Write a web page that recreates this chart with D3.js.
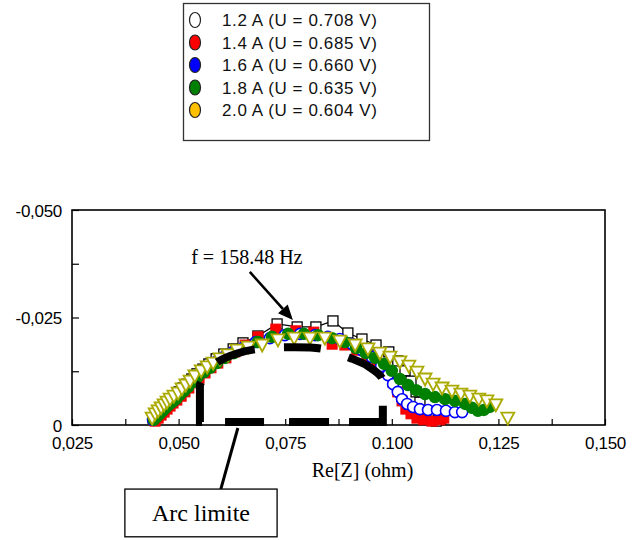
<!DOCTYPE html>
<html>
<head>
<meta charset="utf-8">
<script src="https://cdn.jsdelivr.net/npm/d3@7"></script>
<style>
  body { margin: 0; background: #fff; }
  svg { display: block; }
</style>
</head>
<body>
<svg id="chart" width="642" height="540"></svg>
<script>
// Nyquist plot: Re[Z] vs Im[Z] (ohm) for five cell currents
const legendLabels = [
  "1.2 A (U = 0.708 V)",
  "1.4 A (U = 0.685 V)",
  "1.6 A (U = 0.660 V)",
  "1.8 A (U = 0.635 V)",
  "2.0 A (U = 0.604 V)"
];
const legendColors = ["#ffffff", "#ff0000", "#0000ff", "#008000", "#ffc000"];

// [Re Z, Im Z] pairs
const s12 = [
  [0.0440,-0.0016],[0.0447,-0.0023],[0.0454,-0.0030],[0.0461,-0.0037],[0.0468,-0.0044],
  [0.0475,-0.0051],[0.0482,-0.0058],[0.0492,-0.0067],[0.0501,-0.0077],[0.0510,-0.0086],
  [0.0520,-0.0095],[0.0531,-0.0107],[0.0543,-0.0119],[0.0557,-0.0130],[0.0571,-0.0142],
  [0.0588,-0.0154],[0.0606,-0.0165],[0.0628,-0.0177],[0.0651,-0.0191],[0.0686,-0.0207],
  [0.0731,-0.0235],[0.0778,-0.0228],[0.0822,-0.0228],[0.0862,-0.0242],[0.0897,-0.0214],
  [0.0930,-0.0200],[0.0963,-0.0186],[0.0993,-0.0170],[0.1014,-0.0149],[0.1031,-0.0126],
  [0.1045,-0.0102],[0.1057,-0.0077],[0.1066,-0.0053],[0.1075,-0.0033],[0.1087,-0.0016],
  [0.1104,-0.0009]
];
const s14 = [
  [0.0445,-0.0009],[0.0452,-0.0016],[0.0459,-0.0023],[0.0466,-0.0030],[0.0473,-0.0037],
  [0.0480,-0.0044],[0.0487,-0.0051],[0.0496,-0.0058],[0.0506,-0.0067],[0.0515,-0.0077],
  [0.0524,-0.0086],[0.0536,-0.0098],[0.0548,-0.0109],[0.0562,-0.0121],[0.0576,-0.0133],
  [0.0592,-0.0144],[0.0611,-0.0156],[0.0632,-0.0170],[0.0656,-0.0186],[0.0686,-0.0205],
  [0.0728,-0.0223],[0.0775,-0.0219],[0.0817,-0.0216],[0.0860,-0.0188],[0.0890,-0.0186],
  [0.0918,-0.0174],[0.0942,-0.0160],[0.0965,-0.0144],[0.0986,-0.0123],[0.1003,-0.0100],
  [0.1014,-0.0077],[0.1024,-0.0056],[0.1033,-0.0037],[0.1045,-0.0026],[0.1059,-0.0016],
  [0.1075,-0.0012],[0.1094,-0.0009],[0.1113,-0.0012],[0.1122,-0.0016]
];
const s16 = [
  [0.0440,-0.0012],[0.0447,-0.0019],[0.0454,-0.0026],[0.0461,-0.0033],[0.0468,-0.0040],
  [0.0475,-0.0047],[0.0482,-0.0053],[0.0492,-0.0060],[0.0501,-0.0070],[0.0510,-0.0079],
  [0.0520,-0.0088],[0.0531,-0.0100],[0.0543,-0.0112],[0.0557,-0.0123],[0.0571,-0.0135],
  [0.0588,-0.0147],[0.0606,-0.0158],[0.0628,-0.0170],[0.0653,-0.0181],[0.0681,-0.0193],
  [0.0714,-0.0202],[0.0749,-0.0209],[0.0785,-0.0212],[0.0820,-0.0209],[0.0850,-0.0205],
  [0.0878,-0.0200],[0.0907,-0.0188],[0.0930,-0.0174],[0.0953,-0.0158],[0.0975,-0.0137],
  [0.0991,-0.0116],[0.1003,-0.0095],[0.1014,-0.0077],[0.1024,-0.0060],[0.1036,-0.0049],
  [0.1050,-0.0042],[0.1066,-0.0037],[0.1085,-0.0035],[0.1106,-0.0035],[0.1127,-0.0033],
  [0.1148,-0.0030],[0.1165,-0.0030]
];
const s18 = [
  [0.0442,-0.0012],[0.0449,-0.0019],[0.0456,-0.0026],[0.0463,-0.0033],[0.0470,-0.0040],
  [0.0477,-0.0047],[0.0485,-0.0053],[0.0494,-0.0060],[0.0503,-0.0070],[0.0513,-0.0079],
  [0.0522,-0.0088],[0.0534,-0.0100],[0.0545,-0.0112],[0.0560,-0.0123],[0.0574,-0.0133],
  [0.0590,-0.0144],[0.0609,-0.0156],[0.0630,-0.0167],[0.0656,-0.0179],[0.0686,-0.0193],
  [0.0719,-0.0205],[0.0757,-0.0212],[0.0794,-0.0212],[0.0827,-0.0209],[0.0860,-0.0202],
  [0.0890,-0.0193],[0.0916,-0.0179],[0.0939,-0.0167],[0.0961,-0.0156],[0.0982,-0.0142],
  [0.1000,-0.0126],[0.1019,-0.0107],[0.1038,-0.0093],[0.1057,-0.0081],[0.1078,-0.0072],
  [0.1101,-0.0065],[0.1125,-0.0060],[0.1148,-0.0056],[0.1172,-0.0049],[0.1188,-0.0040],
  [0.1202,-0.0033],[0.1216,-0.0035],[0.1230,-0.0042]
];
const s20 = [
  [0.0438,-0.0016],[0.0445,-0.0026],[0.0452,-0.0033],[0.0459,-0.0040],[0.0466,-0.0047],
  [0.0473,-0.0053],[0.0480,-0.0060],[0.0489,-0.0067],[0.0499,-0.0074],[0.0508,-0.0084],
  [0.0517,-0.0093],[0.0527,-0.0102],[0.0538,-0.0114],[0.0553,-0.0126],[0.0567,-0.0135],
  [0.0581,-0.0144],[0.0597,-0.0154],[0.0616,-0.0163],[0.0637,-0.0174],[0.0663,-0.0181],
  [0.0696,-0.0186],[0.0733,-0.0198],[0.0771,-0.0202],[0.0808,-0.0202],[0.0843,-0.0202],
  [0.0878,-0.0195],[0.0914,-0.0186],[0.0944,-0.0177],[0.0972,-0.0167],[0.0996,-0.0158],
  [0.1019,-0.0147],[0.1040,-0.0137],[0.1059,-0.0123],[0.1078,-0.0107],[0.1097,-0.0095],
  [0.1118,-0.0086],[0.1141,-0.0079],[0.1162,-0.0072],[0.1183,-0.0067],[0.1204,-0.0060],
  [0.1223,-0.0056],[0.1244,-0.0047],[0.1272,-0.0016]
];

// limiting arc (dashed outline) : base level and upper contour
const arcBaseY = -0.0007;
const arcLeftX = 0.0550;
const arcRightX = 0.0979;
const arcContour = [
  [0.0550,-0.0093],[0.0562,-0.0116],[0.0592,-0.0147],[0.0639,-0.0167],[0.0686,-0.0177],
  [0.0766,-0.0181],[0.0839,-0.0177],[0.0902,-0.0156],[0.0944,-0.0137],[0.0977,-0.0109],
  [0.0979,-0.0077]
];

// axis ticks
const xTickValues = [0.025, 0.050, 0.075, 0.100, 0.125, 0.150];
const xTickLabels = ["0,025", "0,050", "0,075", "0.100", "0,125", "0,150"];
const xMinorTicks = [0.0375, 0.0625, 0.0875, 0.1125, 0.1375];
const yTickValues = [0, -0.025, -0.050];
const yTickLabels = ["0", "-0,025", "-0,050"];
const yMinorTicks = [-0.0125, -0.0375];

const svg = d3.select("#chart");
const plot = { left: 72, right: 605, top: 210, bottom: 425 };

const x = d3.scaleLinear().domain([0.025, 0.150]).range([plot.left, plot.right]);
const y = d3.scaleLinear().domain([0, -0.050]).range([plot.bottom, plot.top]);

const sans = "Liberation Sans, Arial, sans-serif";
const serif = "Liberation Serif, Times New Roman, serif";

// ---------- legend ----------
const legend = svg.append("g");
legend.append("rect")
  .attr("x", 183.5).attr("y", 3.5).attr("width", 246).attr("height", 137)
  .attr("fill", "#fff").attr("stroke", "#333").attr("stroke-width", 1.3);
legendLabels.forEach((lab, i) => {
  const cy = 20 + i * 22.5;
  legend.append("ellipse")
    .attr("cx", 195).attr("cy", cy).attr("rx", 5.5).attr("ry", 7.5)
    .attr("fill", legendColors[i]).attr("stroke", "#222").attr("stroke-width", 1.2);
  legend.append("text")
    .attr("x", 222).attr("y", cy).attr("dy", "0.36em")
    .attr("font-family", sans).attr("font-size", 17)
    .attr("letter-spacing", 0.6)
    .attr("fill", "#111").text(lab);
});

// ---------- frame and ticks ----------
const axes = svg.append("g");
axes.append("rect")
  .attr("x", plot.left).attr("y", plot.top)
  .attr("width", plot.right - plot.left).attr("height", plot.bottom - plot.top)
  .attr("fill", "none").attr("stroke", "#000").attr("stroke-width", 1.6);

const xAxis = d3.axisBottom(x)
  .tickValues(xTickValues.concat(xMinorTicks))
  .tickSizeInner(-6).tickSizeOuter(0)
  .tickFormat(d => { const k = xTickValues.indexOf(d); return k >= 0 ? xTickLabels[k] : ""; });
const gx = axes.append("g").attr("transform", `translate(0,${plot.bottom})`).call(xAxis);
gx.select(".domain").remove();
gx.selectAll(".tick line").attr("stroke", "#000").attr("stroke-width", 1.2);
gx.selectAll(".tick text")
  .attr("y", 18).attr("dy", "0.36em")
  .attr("font-family", sans).attr("font-size", 17).attr("letter-spacing", -0.3).attr("fill", "#000");

const yAxis = d3.axisLeft(y)
  .tickValues(yTickValues.concat(yMinorTicks))
  .tickSizeInner(-7).tickSizeOuter(0)
  .tickFormat(d => { const k = yTickValues.indexOf(d); return k >= 0 ? yTickLabels[k] : ""; });
const gy = axes.append("g").attr("transform", `translate(${plot.left},0)`).call(yAxis);
gy.select(".domain").remove();
gy.selectAll(".tick line").attr("stroke", "#000").attr("stroke-width", 1.2);
gy.selectAll(".tick text")
  .attr("x", -10).attr("dy", "0.36em")
  .attr("font-family", sans).attr("font-size", 17).attr("letter-spacing", -0.3).attr("fill", "#000");

// x axis title
svg.append("text")
  .attr("x", (plot.left + plot.right) / 2 + 24).attr("y", 477)
  .attr("text-anchor", "middle")
  .attr("font-family", serif).attr("font-size", 20).attr("fill", "#000")
  .text("Re[Z] (ohm)");

// ---------- series ----------
const marks = svg.append("g");

// 1.2 A : white squares joined by a line
marks.append("path")
  .datum(s12)
  .attr("d", d3.line().x(d => x(d[0])).y(d => y(d[1])))
  .attr("fill", "none").attr("stroke", "#000").attr("stroke-width", 1.3);
marks.append("g").selectAll("rect").data(s12).join("rect")
  .attr("x", d => x(d[0]) - 5).attr("y", d => y(d[1]) - 5)
  .attr("width", 10).attr("height", 10)
  .attr("fill", "#fff").attr("stroke", "#000").attr("stroke-width", 1.3);

// 1.4 A : red squares
marks.append("g").selectAll("rect").data(s14).join("rect")
  .attr("x", d => x(d[0]) - 5).attr("y", d => y(d[1]) - 5)
  .attr("width", 10).attr("height", 10)
  .attr("fill", "#ff0000").attr("stroke", "#ee0000").attr("stroke-width", 1);

// 1.6 A : open blue circles
marks.append("g").selectAll("circle").data(s16).join("circle")
  .attr("cx", d => x(d[0])).attr("cy", d => y(d[1])).attr("r", 5.5)
  .attr("fill", "#fff").attr("stroke", "#0000ff").attr("stroke-width", 1.6);

// 1.8 A : green discs
marks.append("g").selectAll("circle").data(s18).join("circle")
  .attr("cx", d => x(d[0])).attr("cy", d => y(d[1])).attr("r", 5.5)
  .attr("fill", "#008000").attr("stroke", "#008000").attr("stroke-width", 1.5);

// 2.0 A : open down triangles
const tri = "M-6.5,-5.5L6.5,-5.5L0,6.5Z";
marks.append("g").selectAll("path").data(s20).join("path")
  .attr("transform", d => `translate(${x(d[0])},${y(d[1])})`)
  .attr("d", tri)
  .attr("fill", "#fff").attr("stroke", "#aaaa00").attr("stroke-width", 1.8)
  .attr("stroke-linejoin", "miter");

// ---------- limiting arc ----------
const arcCurve = d3.line().x(d => x(d[0])).y(d => y(d[1])).curve(d3.curveCatmullRom.alpha(0.5));
const arcPath = `M${x(arcLeftX)},${y(arcBaseY)}` +
  arcCurve(arcContour).replace(/^M/, "L") +
  `L${x(arcRightX)},${y(arcBaseY)}Z`;
svg.append("path")
  .attr("d", arcPath)
  .attr("fill", "none").attr("stroke", "#000").attr("stroke-width", 8)
  .attr("stroke-linecap", "butt").attr("stroke-linejoin", "miter")
  .attr("stroke-dasharray", "40 26 40 29 37 29 40 28 50 20 40 25 39 23");

// ---------- annotations ----------
const ann = svg.append("g");
ann.append("text")
  .attr("x", x(0.0660)).attr("y", y(-0.0374))
  .attr("text-anchor", "middle")
  .attr("font-family", serif).attr("font-size", 20).attr("fill", "#000")
  .text("f = 158.48 Hz");

const a0 = [x(0.0667), y(-0.0356)];
const a1 = [x(0.0768), y(-0.0244)];
const ang = Math.atan2(a1[1] - a0[1], a1[0] - a0[0]);
const headLen = 15, headHalf = 6.5;
const back = [a1[0] - headLen * Math.cos(ang), a1[1] - headLen * Math.sin(ang)];
ann.append("line")
  .attr("x1", a0[0]).attr("y1", a0[1]).attr("x2", back[0]).attr("y2", back[1])
  .attr("stroke", "#000").attr("stroke-width", 2.6);
ann.append("path")
  .attr("d", `M${a1[0]},${a1[1]}` +
    `L${back[0] + headHalf * Math.sin(ang)},${back[1] - headHalf * Math.cos(ang)}` +
    `L${back[0] - headHalf * Math.sin(ang)},${back[1] + headHalf * Math.cos(ang)}Z`)
  .attr("fill", "#000");

// "Arc limite" callout
const boxX0 = x(0.0374), boxX1 = x(0.0731), boxY0 = y(0.0149), boxY1 = y(0.0260);
ann.append("line")
  .attr("x1", x(0.0599)).attr("y1", boxY0)
  .attr("x2", x(0.0639)).attr("y2", y(0.0007))
  .attr("stroke", "#000").attr("stroke-width", 3);
ann.append("rect")
  .attr("x", boxX0).attr("y", boxY0)
  .attr("width", boxX1 - boxX0).attr("height", boxY1 - boxY0)
  .attr("fill", "#fff").attr("stroke", "#000").attr("stroke-width", 1.3);
ann.append("text")
  .attr("x", (boxX0 + boxX1) / 2).attr("y", (boxY0 + boxY1) / 2).attr("dy", "0.35em")
  .attr("text-anchor", "middle")
  .attr("font-family", serif).attr("font-size", 24).attr("fill", "#000")
  .text("Arc limite");
</script>
</body>
</html>
